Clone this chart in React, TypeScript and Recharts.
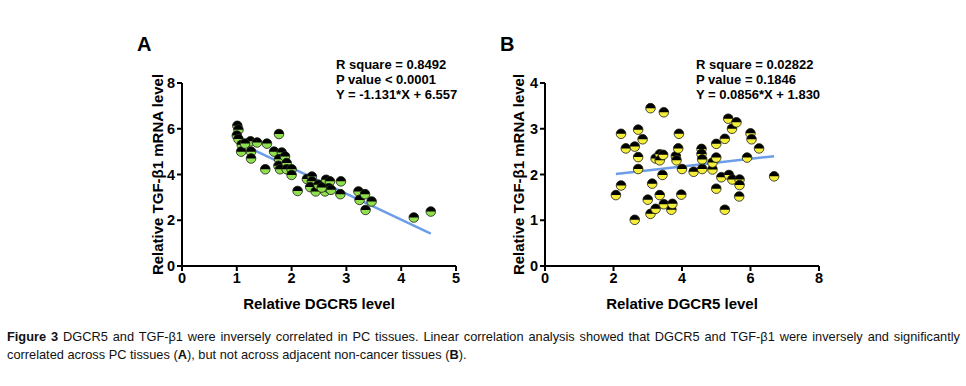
// Figure 3 — DGCR5 vs TGF-β1 scatter panels (A: PC tissues, B: adjacent non-cancer tissues)
import { ScatterChart, Scatter, XAxis, YAxis } from 'recharts';

// Panel A — PC tissues
const aDgcr5 = [
  1.01, 1.03, 1.0, 1.03, 1.09, 1.08, 1.25, 1.26, 1.26, 1.37, 1.15, 1.55, 1.52, 1.77, 1.68, 1.82,
  1.77, 1.88, 1.76, 1.79, 1.91, 1.91, 2.0, 2.0, 2.11, 2.28, 2.37, 2.37, 2.34, 2.44, 2.49, 2.61,
  2.63, 2.7, 2.68, 2.72, 2.55, 2.9, 2.89, 3.22, 3.24, 3.34, 3.35, 3.46, 4.23, 4.54,
];
const aTgfb1 = [
  6.13, 5.96, 5.7, 5.55, 5.3, 5.0, 5.45, 5.0, 4.7, 5.4, 5.35, 5.35, 4.23, 5.77, 5.0, 4.96,
  4.67, 4.79, 4.38, 4.23, 4.5, 4.23, 4.23, 3.98, 3.28, 3.8, 3.91, 3.7, 3.45, 3.26, 3.55, 3.26,
  3.77, 3.7, 3.4, 3.33, 3.43, 3.7, 3.14, 3.26, 2.89, 3.14, 2.45, 2.82, 2.12, 2.38,
];
// fitted line (Y = -1.131*X + 6.557)
const aFitX = [1.0, 4.54];
const aFitY = [5.42, 1.42];

// Panel B — adjacent non-cancer tissues
const bDgcr5 = [
  2.07, 2.22, 2.22, 2.36, 2.62, 2.62, 2.72, 2.72, 2.72, 2.85, 3.0, 3.08, 3.13, 3.08, 3.23, 3.23,
  3.35, 3.35, 3.35, 3.47, 3.45, 3.43, 3.47, 3.69, 3.72, 3.82, 3.84, 3.91, 3.89, 3.98, 4.0, 4.34,
  4.57, 4.57, 4.59, 4.59, 4.89, 4.89, 5.0, 5.0, 5.0, 5.15, 5.25, 5.25, 5.35, 5.37, 5.46, 5.47,
  5.59, 5.68, 5.68, 5.67, 5.9, 6.0, 6.03, 6.25, 6.69,
];
const bTgfb1 = [
  1.55, 1.76, 2.89, 2.57, 2.61, 1.01, 2.98, 2.38, 2.12, 2.77, 1.45, 3.45, 1.8, 1.14, 1.25, 2.35,
  2.44, 2.31, 1.55, 3.36, 2.43, 1.99, 1.35, 1.23, 1.36, 2.4, 2.31, 2.89, 2.57, 1.56, 2.12, 2.06,
  2.56, 2.45, 2.33, 2.12, 2.11, 2.26, 2.67, 2.37, 1.69, 1.94, 2.78, 1.23, 3.22, 1.99, 3.0, 1.89,
  3.14, 1.89, 1.77, 1.52, 2.37, 2.9, 2.77, 2.57, 1.96,
];
// fitted line (Y = 0.0856*X + 1.830)
const bFitX = [2.07, 6.69];
const bFitY = [2.01, 2.4];

const aXTicks = [0, 1, 2, 3, 4, 5];
const aYTicks = [0, 2, 4, 6, 8];
const bXTicks = [0, 2, 4, 6, 8];
const bYTicks = [0, 1, 2, 3, 4];

const aStats = ['R square = 0.8492', 'P value < 0.0001', 'Y = -1.131*X + 6.557'];
const bStats = ['R square = 0.02822', 'P value = 0.1846', 'Y = 0.0856*X + 1.830'];

const FONT = '"Liberation Sans", Arial, sans-serif';
const LINE_COLOR = '#6c9de6';

function zip(xs: number[], ys: number[]) {
  return xs.map((x, i) => ({ x, y: ys[i] }));
}

/** GraphPad-style marker: black top half, coloured bottom half */
function halfDot(color: string) {
  return (props: any) => {
    const { cx, cy } = props;
    const r = 4.8;
    return (
      <g>
        <circle cx={cx} cy={cy} r={r} fill={color} />
        <path d={`M${cx - r},${cy} A${r},${r} 0 0 1 ${cx + r},${cy} Z`} fill="#000" />
        <circle cx={cx} cy={cy} r={r} fill="none" stroke="#1a1a1a" strokeWidth={0.8} />
      </g>
    );
  };
}

const tickStyle = { fill: '#000', fontSize: 14.5, fontWeight: 700, fontFamily: FONT };

function Panel({
  left,
  letter,
  points,
  fit,
  color,
  xDomain,
  yDomain,
  xTicks,
  yTicks,
  stats,
  statsLeft,
  yLabelX,
}: {
  left: number;
  letter: string;
  points: { x: number; y: number }[];
  fit: { x: number; y: number }[];
  color: string;
  xDomain: [number, number];
  yDomain: [number, number];
  xTicks: number[];
  yTicks: number[];
  stats: string[];
  statsLeft: number;
  yLabelX: number;
}) {
  return (
    <div style={{ position: 'absolute', left, top: 0, width: 380, height: 330 }}>
      <div
        style={{
          position: 'absolute',
          left: 37,
          top: 33,
          fontFamily: FONT,
          fontWeight: 700,
          fontSize: 20,
          lineHeight: '22px',
        }}
      >
        {letter}
      </div>
      <div
        style={{
          position: 'absolute',
          left: statsLeft,
          top: 57,
          fontFamily: FONT,
          fontWeight: 700,
          fontSize: 13,
          lineHeight: '15px',
          whiteSpace: 'nowrap',
        }}
      >
        {stats.map((s) => (
          <div key={s}>{s}</div>
        ))}
      </div>
      <div style={{ position: 'absolute', left: 0, top: 50 }}>
        <ScatterChart width={380} height={270} margin={{ top: 33, right: 24, bottom: 0, left: 22 }}>
          <XAxis
            type="number"
            dataKey="x"
            domain={xDomain}
            ticks={xTicks}
            allowDataOverflow
            height={54}
            axisLine={{ stroke: '#000', strokeWidth: 2 }}
            tickLine={{ stroke: '#000', strokeWidth: 2 }}
            tickSize={5}
            tick={tickStyle}
            label={{
              content: ({ viewBox }: any) => (
                <text
                  x={viewBox.x + viewBox.width / 2}
                  y={viewBox.y + 43}
                  textAnchor="middle"
                  fontFamily={FONT}
                  fontWeight={700}
                  fontSize={15}
                  fill="#000"
                >
                  Relative DGCR5 level
                </text>
              ),
            }}
          />
          <YAxis
            type="number"
            dataKey="y"
            domain={yDomain}
            ticks={yTicks}
            allowDataOverflow
            width={60}
            axisLine={{ stroke: '#000', strokeWidth: 2 }}
            tickLine={{ stroke: '#000', strokeWidth: 2 }}
            tickSize={5}
            tick={tickStyle}
            label={{
              content: ({ viewBox }: any) => {
                const cy = viewBox.y + viewBox.height / 2;
                return (
                  <text
                    x={yLabelX}
                    y={cy}
                    transform={`rotate(-90, ${yLabelX}, ${cy})`}
                    textAnchor="middle"
                    dominantBaseline="central"
                    fontFamily={FONT}
                    fontWeight={700}
                    fontSize={15}
                    fill="#000"
                  >
                    Relative TGF-β1 mRNA level
                  </text>
                );
              },
            }}
          />
          <Scatter
            data={fit}
            line={{ stroke: LINE_COLOR, strokeWidth: 2.5 }}
            shape={() => <g />}
            isAnimationActive={false}
          />
          <Scatter data={points} shape={halfDot(color)} isAnimationActive={false} />
        </ScatterChart>
      </div>
    </div>
  );
}

export default function App() {
  return (
    <div
      style={{
        position: 'absolute',
        left: 0,
        top: 0,
        width: 966,
        height: 386,
        background: '#fff',
        overflow: 'hidden',
      }}
    >
      <Panel
        left={100}
        letter="A"
        points={zip(aDgcr5, aTgfb1)}
        fit={zip(aFitX, aFitY)}
        color="#8fe04c"
        xDomain={[0, 5]}
        yDomain={[0, 8]}
        xTicks={aXTicks}
        yTicks={aYTicks}
        stats={aStats}
        statsLeft={236}
        yLabelX={57}
      />
      <Panel
        left={463}
        letter="B"
        points={zip(bDgcr5, bTgfb1)}
        fit={zip(bFitX, bFitY)}
        color="#f4ee3a"
        xDomain={[0, 8]}
        yDomain={[0, 4]}
        xTicks={bXTicks}
        yTicks={bYTicks}
        stats={bStats}
        statsLeft={233}
        yLabelX={55}
      />
      <div
        style={{
          position: 'absolute',
          left: 7,
          top: 328,
          width: 953,
          fontFamily: FONT,
          fontSize: 12.8,
          lineHeight: '18px',
          color: '#111',
        }}
      >
        <div style={{ textAlign: 'justify', textAlignLast: 'justify', whiteSpace: 'nowrap' as const }}>
          <b>Figure 3</b> DGCR5 and TGF-β1 were inversely correlated in PC tissues. Linear correlation analysis showed
          that DGCR5 and TGF-β1 were inversely and significantly
        </div>
        <div>
          correlated across PC tissues (<b>A</b>), but not across adjacent non-cancer tissues (<b>B</b>).
        </div>
      </div>
    </div>
  );
}
